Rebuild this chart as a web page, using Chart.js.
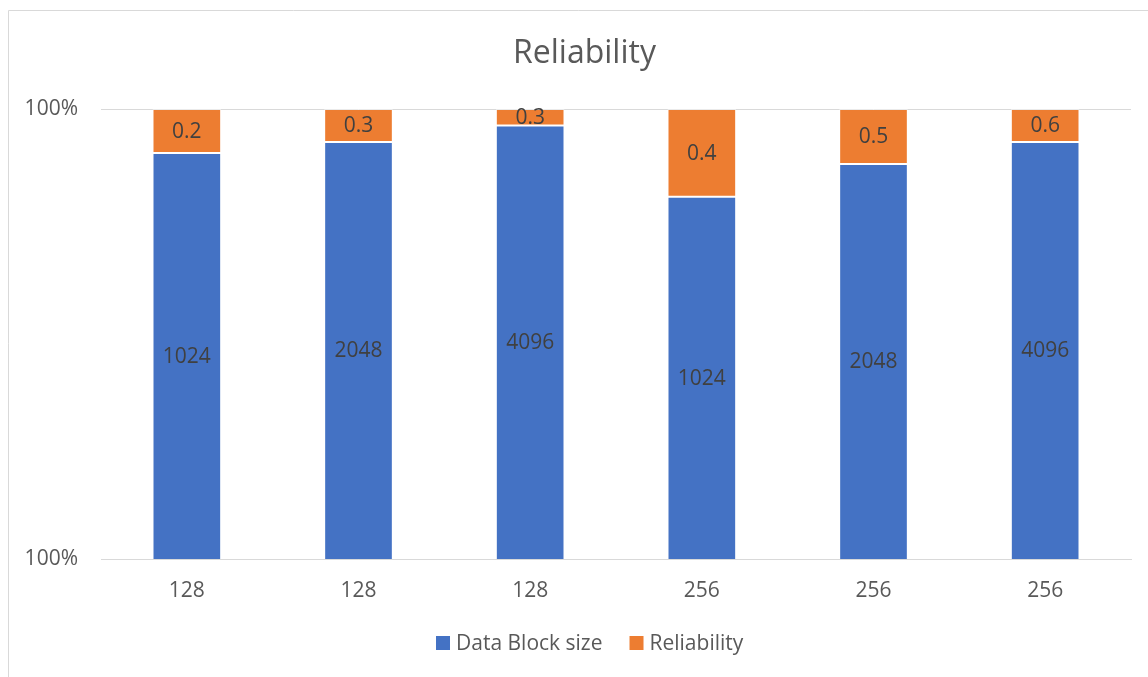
<!DOCTYPE html>
<html>
<head>
<meta charset="utf-8">
<script src="https://cdn.jsdelivr.net/npm/chart.js@4/dist/chart.umd.min.js"></script>
<style>
  html, body { margin: 0; padding: 0; background: #ffffff; }
  #wrap { position: relative; width: 1148px; height: 677px; }
</style>
</head>
<body>
<div id="wrap"><canvas id="chart" width="1148" height="677"></canvas></div>
<script>
// Category axis labels (block group) and the two stacked series
const groupLabels = ['128', '128', '128', '256', '256', '256'];
const blockSizes = [1024, 2048, 4096, 1024, 2048, 4096];
const reliability = [0.2, 0.3, 0.3, 0.4, 0.5, 0.6];

// Visible window of the 100% stacked value axis
const axisMin = 99.8;
const axisMax = 100;
const axisTicks = [99.8, 100];

const chartTitle = 'Reliability';

const BLUE = '#4472C4';
const ORANGE = '#ED7D31';
const TEXT = '#595959';
const LABEL = '#404040';
const GRID = '#d9d9d9';
const FONT = "'Open Sans', 'Liberation Sans', sans-serif";

// Each column is normalised to 100% of its own total
const totals = blockSizes.map((v, i) => v + reliability[i]);
const blockShare = blockSizes.map((v, i) => v / totals[i] * 100);
const reliabilityShare = reliability.map((v, i) => v / totals[i] * 100);

// Value labels centred on the visible part of each segment
const segmentLabels = {
  id: 'segmentLabels',
  afterDatasetsDraw(chart) {
    const { ctx, chartArea } = chart;
    ctx.save();
    ctx.font = "21px " + FONT;
    ctx.fillStyle = LABEL;
    ctx.textAlign = 'center';
    ctx.textBaseline = 'middle';
    chart.data.datasets.forEach((ds, di) => {
      const meta = chart.getDatasetMeta(di);
      meta.data.forEach((bar, i) => {
        const top = Math.max(Math.min(bar.y, bar.base), chartArea.top);
        const bottom = Math.min(Math.max(bar.y, bar.base), chartArea.bottom);
        if (bottom <= top) return;
        ctx.fillText(String(ds.raw[i]), bar.x, (top + bottom) / 2 + 1);
      });
    });
    ctx.restore();
  }
};

// Outer chart frame, title and the bottom legend row
const frameAndLegend = {
  id: 'frameAndLegend',
  beforeDraw(chart) {
    const { ctx } = chart;
    ctx.save();
    ctx.strokeStyle = GRID;
    ctx.lineWidth = 1;
    ctx.beginPath();
    ctx.moveTo(8.5, chart.height);
    ctx.lineTo(8.5, 10.5);
    ctx.lineTo(chart.width, 10.5);
    ctx.stroke();
    ctx.restore();
  },
  afterDraw(chart) {
    const { ctx } = chart;
    ctx.save();
    ctx.font = "32px " + FONT;
    ctx.fillStyle = TEXT;
    ctx.textAlign = 'center';
    ctx.textBaseline = 'middle';
    ctx.fillText(chartTitle, 584.5, 54);

    const items = chart.data.datasets.map(ds => ({ text: ds.label, color: ds.backgroundColor }));
    ctx.font = "21px " + FONT;
    ctx.textAlign = 'left';
    const box = 14, gapText = 6, gapItem = 27, cy = 643;
    let x = 436;
    items.forEach(it => {
      ctx.fillStyle = it.color;
      ctx.fillRect(x, cy - box / 2, box, box);
      ctx.fillStyle = TEXT;
      ctx.fillText(it.text, x + box + gapText, cy + 1);
      x += box + gapText + ctx.measureText(it.text).width + gapItem;
    });
    ctx.restore();
  }
};

new Chart(document.getElementById('chart'), {
  type: 'bar',
  data: {
    labels: groupLabels,
    datasets: [
      {
        label: 'Data Block size',
        data: blockShare,
        raw: blockSizes,
        backgroundColor: BLUE,
        borderColor: 'rgba(255,255,255,0.45)',
        borderWidth: 1,
        borderSkipped: false,
        barPercentage: 0.4,
        categoryPercentage: 1
      },
      {
        label: 'Reliability',
        data: reliabilityShare,
        raw: reliability,
        backgroundColor: ORANGE,
        borderColor: 'rgba(255,255,255,0.45)',
        borderWidth: 1,
        borderSkipped: false,
        barPercentage: 0.4,
        categoryPercentage: 1
      }
    ]
  },
  options: {
    responsive: false,
    animation: false,
    layout: { padding: { left: 0, right: 17, top: 109, bottom: 73.4 } },
    plugins: {
      legend: { display: false },
      tooltip: { enabled: false },
      title: { display: false }
    },
    scales: {
      x: {
        stacked: true,
        grid: { display: false, drawTicks: false },
        border: { display: true, color: GRID, width: 1 },
        ticks: { color: TEXT, font: { family: FONT, size: 21, lineHeight: 1.2 }, padding: 19 },
        afterFit(scale) { scale.height = 44.6; }
      },
      y: {
        stacked: true,
        min: axisMin,
        max: axisMax,
        grid: { color: GRID, lineWidth: 1, drawTicks: false },
        border: { display: false },
        afterBuildTicks(scale) { scale.ticks = axisTicks.map(v => ({ value: v })); },
        ticks: {
          color: TEXT,
          font: { family: FONT, size: 21 },
          padding: 23,
          callback: v => Math.round(v) + '%'
        },
        afterFit(scale) { scale.width = 101; }
      }
    }
  },
  plugins: [segmentLabels, frameAndLegend]
});
</script>
</body>
</html>
